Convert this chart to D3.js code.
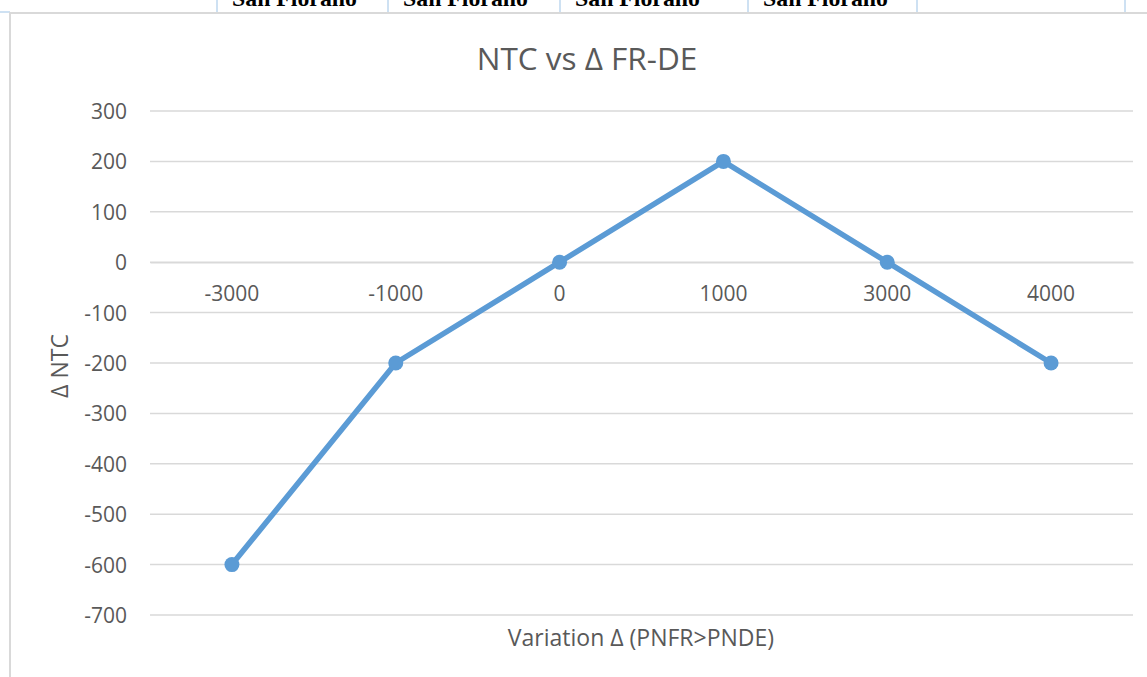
<!DOCTYPE html>
<html>
<head>
<meta charset="utf-8">
<script src="https://cdn.jsdelivr.net/npm/d3@7"></script>
<style>
  html, body { margin: 0; padding: 0; background: #fff; }
  svg { display: block; }
</style>
</head>
<body>
<svg id="chart" width="1147" height="677"></svg>
<script>
// ---- Data ----
const categories = ["-3000", "-1000", "0", "1000", "3000", "4000"];
const ntcValues = [-600, -200, 0, 200, 0, -200];
const yTicks = [300, 200, 100, 0, -100, -200, -300, -400, -500, -600, -700];
const chartTitle = "NTC vs Δ FR-DE";
const xAxisTitle = "Variation Δ (PNFR>PNDE)";
const yAxisTitle = "Δ NTC";
// Table fragment visible above the chart
const headerCellEdges = [217, 388, 560, 748, 917, 1125];
const headerCellTexts = ["San Fiorano", "San Fiorano", "San Fiorano", "San Fiorano"];

const W = 1147, H = 677;
const svg = d3.select("#chart");
const textColor = "#595959";
const gridColor = "#d9d9d9";
const lineColor = "#5B9BD5";
const font = "'Open Sans', sans-serif";

// ---- Table fragment at top ----
const headerG = svg.append("g");
headerG.selectAll("line.cell")
  .data(headerCellEdges)
  .join("line")
  .attr("x1", d => d).attr("x2", d => d)
  .attr("y1", 0).attr("y2", 12)
  .attr("stroke", "#9DC3E6").attr("stroke-width", 1);
headerG.append("line")
  .attr("x1", 0).attr("x2", 10).attr("y1", 12).attr("y2", 12)
  .attr("stroke", "#9DC3E6").attr("stroke-width", 1);
headerG.selectAll("text.cell")
  .data(headerCellTexts)
  .join("text")
  .attr("x", (d, i) => headerCellEdges[i] + 15)
  .attr("y", 6)
  .attr("font-family", "'Liberation Serif', serif")
  .attr("font-weight", "bold")
  .attr("font-size", 23.8)
  .attr("fill", "#000")
  .text(d => d);

// Chart frame
svg.append("rect")
  .attr("x", 10).attr("y", 13).attr("width", W + 10).attr("height", H + 10)
  .attr("fill", "#fff")
  .attr("stroke", gridColor).attr("stroke-width", 2);

// ---- Scales ----
const x = d3.scaleBand().domain(categories).range([150, 1133]).padding(0);
const y = d3.scaleLinear().domain([-700, 300]).range([615, 111]);

// Y axis labels
const yAxis = d3.axisLeft(y).tickValues(yTicks).tickFormat(d => String(d))
  .tickSize(0).tickPadding(0);
const yg = svg.append("g").attr("transform", "translate(127,0)").call(yAxis);
yg.select(".domain").remove();
yg.selectAll("text")
  .attr("font-family", font).attr("font-size", 21)
  .attr("fill", textColor).attr("dy", "0.36em");

// Gridlines
svg.append("g").selectAll("line.grid")
  .data(yTicks)
  .join("line")
  .attr("x1", 150).attr("x2", 1133)
  .attr("y1", d => y(d)).attr("y2", d => y(d))
  .attr("stroke", gridColor).attr("stroke-width", 1.5);

// X axis at zero
const xAxis = d3.axisBottom(x).tickSize(0).tickPadding(0);
const xg = svg.append("g").attr("transform", `translate(0,${y(0)})`).call(xAxis);
xg.select(".domain").attr("stroke", gridColor).attr("stroke-width", 1.5);
xg.selectAll("text")
  .attr("font-family", font).attr("font-size", 21)
  .attr("fill", textColor).attr("dy", null).attr("y", 39);

// Line
const cx = d => x(d) + x.bandwidth() / 2;
const pts = categories.map((c, i) => [cx(c), y(ntcValues[i])]);
svg.append("path")
  .attr("d", d3.line()(pts))
  .attr("fill", "none")
  .attr("stroke", lineColor)
  .attr("stroke-width", 5.5)
  .attr("stroke-linejoin", "round");

svg.append("g").selectAll("circle")
  .data(categories)
  .join("circle")
  .attr("cx", d => cx(d))
  .attr("cy", (d, i) => y(ntcValues[i]))
  .attr("r", 7.5)
  .attr("fill", lineColor);

// Titles
svg.append("text")
  .attr("x", 587).attr("y", 70)
  .attr("text-anchor", "middle")
  .attr("font-family", font).attr("font-size", 31.5)
  .attr("fill", textColor)
  .text(chartTitle);

svg.append("text")
  .attr("x", 641).attr("y", 646)
  .attr("text-anchor", "middle")
  .attr("font-family", font).attr("font-size", 23)
  .attr("fill", textColor)
  .text(xAxisTitle);

svg.append("text")
  .attr("transform", "translate(68,366) rotate(-90)")
  .attr("text-anchor", "middle")
  .attr("font-family", font).attr("font-size", 23)
  .attr("fill", textColor)
  .text(yAxisTitle);
</script>
</body>
</html>
